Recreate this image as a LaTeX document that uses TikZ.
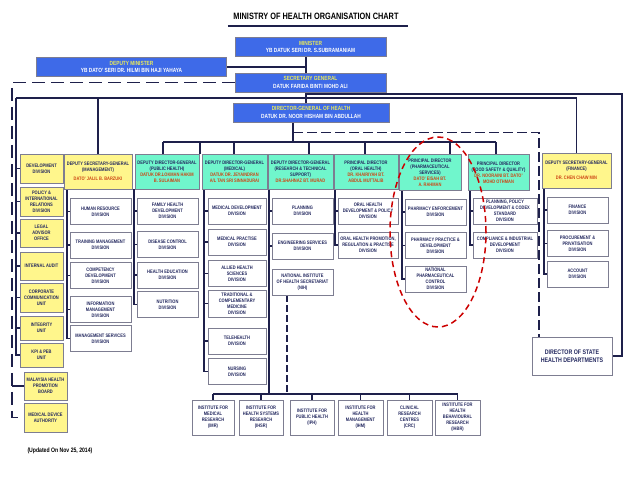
\documentclass[tikz,border=0pt]{standalone}
\usepackage{fontspec}
\setmainfont{Liberation Sans}[FakeStretch=0.8]
\usepackage{tikz}
\pgfdeclarelayer{background}
\pgfsetlayers{background,main}
\definecolor{mohblue}{RGB}{62,106,232}
\definecolor{mohyellow}{RGB}{255,246,140}
\definecolor{mohmint}{RGB}{112,246,204}
\definecolor{navytext}{RGB}{35,40,95}
\definecolor{namered}{RGB}{205,70,20}
\definecolor{titleyellow}{RGB}{235,235,90}
\definecolor{linenavy}{RGB}{30,32,75}
\definecolor{boxgray}{RGB}{125,125,145}

\begin{document}
\begin{tikzpicture}[x=1pt, y=-1pt,
  box/.style={draw=boxgray, line width=0.7pt, align=center, inner sep=0pt,
    font=\fontsize{5}{6}\selectfont\bfseries, text=navytext},
  bluebox/.style={box, fill=mohblue, minimum height=19pt, text=white,
    font=\fontsize{6}{7.6}\selectfont\bfseries},
  ybox/.style={box, fill=mohyellow, minimum height=35pt},
  gbox/.style={box, fill=mohmint, minimum height=35pt},
  divbox/.style={box, fill=white, minimum height=26pt},
  unitbox/.style={box, fill=mohyellow, minimum width=43pt},
  link/.style={draw=linenavy, line width=1.2pt},
  sgdash/.style={link, line width=1.5pt, dash pattern=on 13pt off 6pt},
  dgdash/.style={link, dash pattern=on 10pt off 4pt},
  nihdash/.style={link, dash pattern=on 7pt off 3pt},
  redring/.style={draw=red!80!black, line width=1.5pt, dash pattern=on 6pt off 4pt}]
\useasboundingbox (0,0) rectangle (638,479);

% title
\node[font=\fontsize{9.2}{11}\selectfont\bfseries] (title) at (316,16) {MINISTRY OF HEALTH ORGANISATION CHART};
\draw[link, line width=1.6pt] (title.south west) ++(-2,3) -- ++(180,0);

% top level
\node[bluebox, minimum width=151pt] (minister) at (310.5,47) {\textcolor{titleyellow}{MINISTER}\\YB DATUK SERI DR. S.SUBRAMANIAM};
\node[bluebox, minimum width=190pt] (dm) at (131.5,67) {\textcolor{titleyellow}{DEPUTY MINISTER}\\YB DATO' SERI DR. HILMI BIN HAJI YAHAYA};
\node[bluebox, minimum width=151pt] (sg) at (310.5,82.5) {\textcolor{titleyellow}{SECRETARY GENERAL}\\DATUK FARIDA BINTI MOHD ALI};
\node[bluebox, minimum width=156pt] (dg) at (311,112.5) {\textcolor{titleyellow}{DIRECTOR-GENERAL OF HEALTH}\\DATUK DR. NOOR HISHAM BIN ABDULLAH};

% units under the secretary general
\node[unitbox, minimum height=29pt] (dev) at (41.5,168.5) {DEVELOPMENT\\DIVISION};
\node[unitbox, minimum height=29pt] (policy) at (41.5,201.5) {POLICY \&\\INTERNATIONAL\\RELATIONS\\DIVISION};
\node[unitbox, minimum height=28pt] (legal) at (41.5,233) {LEGAL\\ADVISOR\\OFFICE};
\node[unitbox, minimum height=28pt] (audit) at (41.5,266) {INTERNAL AUDIT};
\node[unitbox, minimum height=29pt] (corp) at (41.5,297.5) {CORPORATE\\COMMUNICATION\\UNIT};
\node[unitbox, minimum height=24pt] (integ) at (41.5,328) {INTEGRITY\\UNIT};
\node[unitbox, minimum height=24pt] (kpi) at (41.5,355) {KPI \& PEB\\UNIT};
\node[unitbox, minimum height=28pt] (mhpb) at (45.5,386) {MALAYSIA HEALTH\\PROMOTION\\BOARD};
\node[unitbox, minimum height=29pt] (mda) at (45.5,417.5) {MEDICAL DEVICE\\AUTHORITY};

% deputy secretary-general (management)
\node[ybox, minimum width=68pt] (dsgm) at (98,171.5) {DEPUTY SECRETARY-GENERAL\\(MANAGEMENT)\\[3pt]\textcolor{namered}{DATO' JALIL B. BARZUKI}};
\node[divbox, minimum width=61pt] (hr) at (100.5,211.5) {HUMAN RESOURCE\\DIVISION};
\node[divbox, minimum width=61pt] (train) at (100.5,245) {TRAINING MANAGEMENT\\DIVISION};
\node[divbox, minimum width=61pt] (comp) at (100.5,275.5) {COMPETENCY\\DEVELOPMENT\\DIVISION};
\node[divbox, minimum width=61pt] (info) at (100.5,309.5) {INFORMATION\\MANAGEMENT\\DIVISION};
\node[divbox, minimum width=61pt] (mgsvc) at (100.5,338.5) {MANAGEMENT SERVICES\\DIVISION};

% deputy director-general (public health)
\node[gbox, minimum width=64pt] (ddgph) at (167,171.5) {DEPUTY DIRECTOR-GENERAL\\(PUBLIC HEALTH)\\\textcolor{namered}{DATUK DR.LOKMAN HAKIM}\\\textcolor{namered}{B. SULAIMAN}};
\node[divbox, minimum width=61pt] (fhd) at (167.5,211) {FAMILY HEALTH\\DEVELOPMENT\\DIVISION};
\node[divbox, minimum width=61pt] (dcd) at (167.5,244.5) {DISEASE CONTROL\\DIVISION};
\node[divbox, minimum width=61pt] (hed) at (167.5,275) {HEALTH EDUCATION\\DIVISION};
\node[divbox, minimum width=61pt] (nut) at (167.5,304.5) {NUTRITION\\DIVISION};

% deputy director-general (medical)
\node[gbox, minimum width=65pt] (ddgmed) at (234.5,171.5) {DEPUTY DIRECTOR-GENERAL\\(MEDICAL)\\\textcolor{namered}{DATUK DR. JEYAINDRAN}\\\textcolor{namered}{A/L TAN SRI SINNADURAI}};
\node[divbox, minimum width=58pt] (mdd) at (237,211) {MEDICAL DEVELOPMENT\\DIVISION};
\node[divbox, minimum width=58pt] (mpd) at (237,242) {MEDICAL PRACTISE\\DIVISION};
\node[divbox, minimum width=58pt] (ahs) at (237,273.5) {ALLIED HEALTH\\SCIENCES\\DIVISION};
\node[divbox, minimum width=58pt, minimum height=27pt] (tcm) at (237,303.5) {TRADITIONAL \&\\COMPLEMENTARY\\MEDICINE\\DIVISION};
\node[divbox, minimum width=58pt] (tele) at (237,341) {TELEHEALTH\\DIVISION};
\node[divbox, minimum width=58pt] (nurse) at (237,371.5) {NURSING\\DIVISION};

% deputy director-general (research & technical support)
\node[gbox, minimum width=65pt] (ddgres) at (300.5,171.5) {DEPUTY DIRECTOR-GENERAL\\(RESEARCH \& TECHNICAL\\SUPPORT)\\\textcolor{namered}{DR.SHAHNAZ BT. MURAD}};
\node[divbox, minimum width=61pt] (plan) at (302.5,211) {PLANNING\\DIVISION};
\node[divbox, minimum width=61pt] (eng) at (302.5,246) {ENGINEERING SERVICES\\DIVISION};
\node[divbox, minimum width=61pt] (nih) at (302.5,282) {NATIONAL INSTITUTE\\OF HEALTH SECRETARIAT\\(NIH)};

% principal director (oral health)
\node[gbox, minimum width=64pt] (pdoral) at (366,171.5) {PRINCIPAL DIRECTOR\\(ORAL HEALTH)\\\textcolor{namered}{DR. KHAIRIYAH BT.}\\\textcolor{namered}{ABDUL MUTTALIB}};
\node[divbox, minimum width=60pt] (ohdp) at (368,211) {ORAL HEALTH\\DEVELOPMENT \& POLICY\\DIVISION};
\node[divbox, minimum width=60pt] (ohpr) at (368,245) {ORAL HEALTH PROMOTION,\\REGULATION \& PRACTISE\\DIVISION};

% principal director (pharmaceutical services)
\node[gbox, minimum width=62pt, minimum height=36pt] (pdpharm) at (430,172.5) {PRINCIPAL DIRECTOR\\(PHARMACEUTICAL\\SERVICES)\\\textcolor{namered}{DATO' EISAH BT.}\\\textcolor{namered}{A. RAHMAN}};
\node[divbox, minimum width=61pt] (pe) at (435.5,212) {PHARMACY ENFORCEMENT\\DIVISION};
\node[divbox, minimum width=61pt] (ppd) at (435.5,245.5) {PHARMACY PRACTICE \&\\DEVELOPMENT\\DIVISION};
\node[divbox, minimum width=61pt] (npc) at (435.5,279) {NATIONAL\\PHARMACEUTICAL\\CONTROL\\DIVISION};

% principal director (food safety & quality)
\node[gbox, minimum width=61pt, minimum height=36pt] (pdfood) at (498.5,172.5) {PRINCIPAL DIRECTOR\\(FOOD SAFETY \& QUALITY)\\\textcolor{namered}{DR. NOORAINI BT. DATO'}\\\textcolor{namered}{MOHD OTHMAN}};
\node[divbox, minimum width=64pt] (ppdc) at (505,211) {PLANNING, POLICY\\DEVELOPMENT \& CODEX\\STANDARD\\DIVISION};
\node[divbox, minimum width=64pt] (cid) at (505,245) {COMPLIANCE \& INDUSTRIAL\\DEVELOPMENT\\DIVISION};

% deputy secretary-general (finance)
\node[ybox, minimum width=69pt] (dsgf) at (576.5,170.5) {DEPUTY SECRETARY-GENERAL\\(FINANCE)\\[3pt]\textcolor{namered}{DR. CHEN CHAW MIN}};
\node[divbox, minimum width=61pt] (fin) at (577.5,210) {FINANCE\\DIVISION};
\node[divbox, minimum width=61pt] (proc) at (577.5,243.5) {PROCUREMENT \&\\PRIVATISATION\\DIVISION};
\node[divbox, minimum width=61pt] (acc) at (577.5,274) {ACCOUNT\\DIVISION};

\node[box, fill=white, minimum width=80pt, minimum height=38pt,
  font=\fontsize{6.6}{8}\selectfont\bfseries] (state) at (572,356) {DIRECTOR OF STATE\\HEALTH DEPARTMENTS};

% institutes
\node[divbox, minimum width=42pt, minimum height=35pt] (imr) at (213,417.5) {INSTITUTE FOR\\MEDICAL\\RESEARCH\\(IMR)};
\node[divbox, minimum width=44pt, minimum height=35pt] (ihsr) at (261,417.5) {INSTITUTE FOR\\HEALTH SYSTEMS\\RESEARCH\\(IHSR)};
\node[divbox, minimum width=44pt, minimum height=35pt] (iph) at (312,417.5) {INSTITUTE FOR\\PUBLIC HEALTH\\(IPH)};
\node[divbox, minimum width=45pt, minimum height=35pt] (ihm) at (360.5,417.5) {INSTITUTE FOR\\HEALTH\\MANAGEMENT\\(IHM)};
\node[divbox, minimum width=45pt, minimum height=35pt] (crc) at (409.5,417.5) {CLINICAL\\RESEARCH\\CENTRES\\(CRC)};
\node[divbox, minimum width=45pt, minimum height=35pt] (ihbr) at (457.5,417.5) {INSTITUTE FOR\\HEALTH\\BEHAVIOURAL\\RESEARCH\\(IHBR)};

\node[anchor=west, font=\fontsize{6.4}{8}\selectfont\bfseries] (note) at (24,451) {(Updated On Nov 25, 2014)};

% connectors, behind the boxes
\begin{pgfonlayer}{background}
\coordinate (spine) at (306,0);
\coordinate (dgdrop) at (293,142);
\coordinate (sdrop) at (539,0);
\draw[link] (minister.south -| spine) -- (dg.north -| spine);
\draw[link] (dm.east) -- (dm.east -| spine);
\draw[link] (sg.south -| spine) |- (622,94) |- (state.east);
\draw[sgdash] (sg.west) -| (mda.west -| 12,0) -- (mda.west);
\draw[link] (mhpb.west) -- (mhpb.west -| 12,0);
\draw[link] (16,98) -- (dsgf.north |- 0,98);
\draw[link] (dsgm.north |- 0,98) -- (dsgm.north);
\draw[link] (dsgf.north |- 0,98) -- (dsgf.north);
\draw[link] (16,98) |- (kpi.west);
\foreach \n in {dev,policy,legal,audit,corp,integ}
  \draw[link] (\n.west) -- (\n.west -| 16,0);

\draw[link] (dg.south -| dgdrop) -- (dgdrop);
\draw[dgdash] (dg.south -| dgdrop) ++(0,10) -| (state.north -| sdrop);
\draw[link] (163,142) -- (496,142);
\foreach \n/\x in {ddgph/163,ddgmed/234,ddgres/309,pdoral/365,pdpharm/450,pdfood/496}
  \draw[link] (\x,142) -- (\n.north -| \x,0);
\draw[link] (200,142) -- (200,154);

% columns
\draw[link] (dsgm.south -| 67,0) |- (mgsvc.west);
\foreach \n in {hr,train,comp,info} \draw[link] (\n.west) -- (\n.west -| 67,0);
\draw[link] (ddgph.south -| 134,0) |- (nut.west);
\foreach \n in {fhd,dcd,hed} \draw[link] (\n.west) -- (\n.west -| 134,0);
\draw[link] (ddgmed.south -| 204,0) |- (nurse.west);
\foreach \n in {mdd,mpd,ahs,tcm,tele} \draw[link] (\n.west) -- (\n.west -| 204,0);
\draw[link] (ddgres.south -| 269,0) -- (269,394);
\foreach \n in {plan,eng} \draw[link] (\n.west) -- (\n.west -| 269,0);
\draw[nihdash] (nih.south -| 287,0) -- (287,394);
\draw[link] (pdoral.south -| 335,0) |- (ohpr.west);
\draw[link] (ohdp.west) -- (ohdp.west -| 335,0);
\draw[link] (pdpharm.south -| 402,0) |- (npc.west);
\foreach \n in {pe,ppd} \draw[link] (\n.west) -- (\n.west -| 402,0);
\draw[link] (pdfood.south -| 470,0) |- (cid.west);
\draw[link] (ppdc.west) -- (ppdc.west -| 470,0);
\draw[link] (dsgf.south -| 544,0) |- (acc.west);
\foreach \n in {fin,proc} \draw[link] (\n.west) -- (\n.west -| 544,0);

\draw[link] (imr.north |- 0,394) -- (ihbr.north |- 0,394);
\foreach \n in {imr,ihsr,iph,ihm,crc,ihbr} \draw[link] (\n.north) -- (\n.north |- 0,394);
\end{pgfonlayer}

% pharmaceutical services ring
\draw[redring] (438,232) ellipse [x radius=48pt, y radius=95pt];
\end{tikzpicture}
\end{document}
